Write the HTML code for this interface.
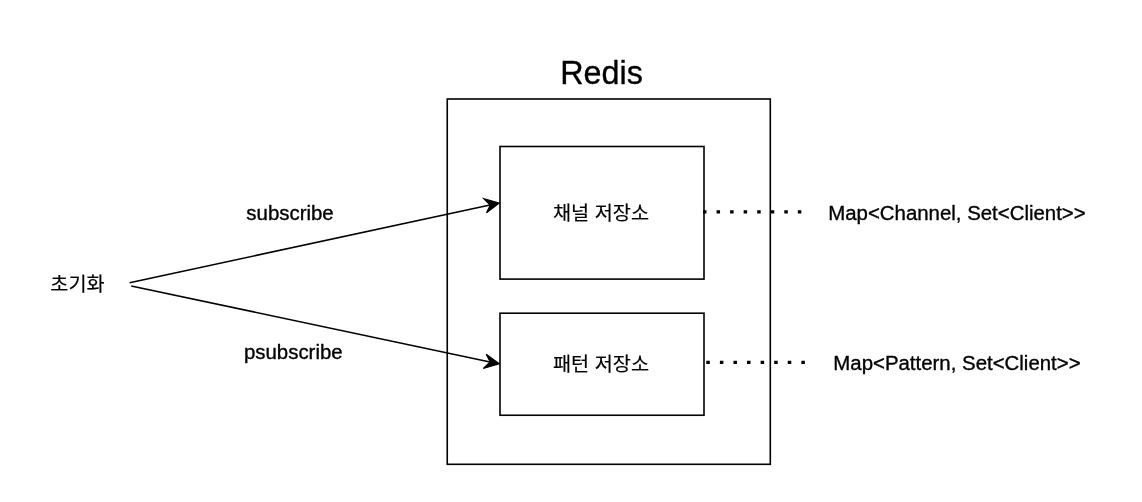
<!DOCTYPE html>
<html lang="ko">
<head>
<meta charset="utf-8">
<title>Redis Pub/Sub</title>
<style>
html,body{margin:0;padding:0;background:#fff;}
body{width:1142px;height:502px;overflow:hidden;position:relative;}
svg{position:absolute;left:0;top:0;display:block;will-change:transform;opacity:0.999;}
text{fill:#000;stroke:#000;stroke-width:0.35px;stroke-linejoin:round;}
.lat{font-family:"Liberation Sans",Arial,Helvetica,sans-serif;font-size:20.41px;}
.title{font-family:"Liberation Sans",Arial,Helvetica,sans-serif;font-size:32.3px;}
.ko{font-family:"Liberation Sans","Noto Sans CJK KR","NanumGothic",sans-serif;font-size:19.7px;stroke-width:0.18px;}
</style>
</head>
<body>
<svg width="1142" height="502" viewBox="0 0 1142 502">
  <rect x="0" y="0" width="1142" height="502" fill="#ffffff"/>
  <!-- outer Redis box -->
  <rect x="447.25" y="99" width="323.05" height="365.3" fill="none" stroke="#000" stroke-width="1.6"/>
  <!-- channel store -->
  <rect x="500" y="146.5" width="204" height="132.6" fill="#fff" stroke="#000" stroke-width="1.6"/>
  <!-- pattern store -->
  <rect x="500" y="313.2" width="204" height="102.05" fill="#fff" stroke="#000" stroke-width="1.6"/>
  <!-- dotted connectors -->
  <line x1="703.0" y1="211.9" x2="803" y2="211.9" stroke="#000" stroke-width="3.3" stroke-dasharray="3.5 10.05"/>
  <line x1="706.3" y1="362.4" x2="806" y2="362.4" stroke="#000" stroke-width="3.3" stroke-dasharray="3.5 10.08"/>
  <!-- arrows -->
  <line x1="129.6" y1="282.7" x2="490" y2="205" stroke="#000" stroke-width="1.6"/>
  <polygon points="499.2,203 483.8,198.7 490.2,205.2 486.5,212.7" fill="#000" stroke="#000" stroke-width="1.2" stroke-linejoin="miter"/>
  <line x1="131.2" y1="286.0" x2="490" y2="361.95" stroke="#000" stroke-width="1.6"/>
  <polygon points="499.2,363.7 486.2,354.2 490.2,362.0 483.3,368.5" fill="#000" stroke="#000" stroke-width="1.2" stroke-linejoin="miter"/>
  <!-- labels -->
  <text class="title" x="601.5" y="83.9" text-anchor="middle">Redis</text>
  <text class="lat" x="290.0" y="220.1" text-anchor="middle">subscribe</text>
  <text class="lat" x="293.3" y="359.2" text-anchor="middle">psubscribe</text>
  <text class="lat" x="828.2" y="220.0">Map&lt;Channel, Set&lt;Client&gt;&gt;</text>
  <text class="lat" x="833.3" y="370.2">Map&lt;Pattern, Set&lt;Client&gt;&gt;</text>
  <text class="ko" x="77.5" y="291.4" text-anchor="middle">초기화</text>
  <text class="ko" x="601" y="219.6" text-anchor="middle">채널 저장소</text>
  <text class="ko" x="601" y="370.7" text-anchor="middle">패턴 저장소</text>
</svg>
</body>
</html>
